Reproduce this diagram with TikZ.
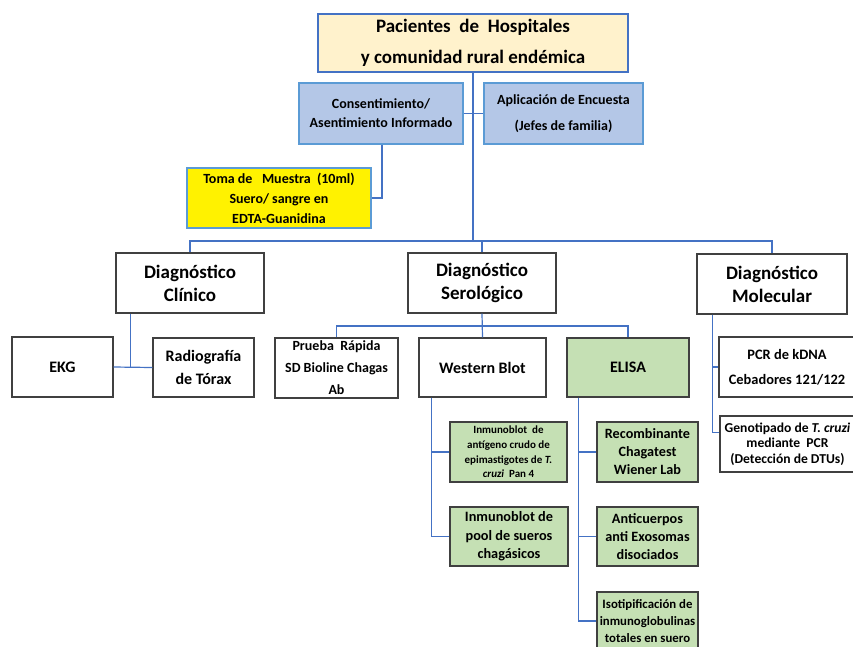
\documentclass[tikz,border=0pt]{standalone}
\usepackage{fontspec}
\setmainfont{Carlito}
\usetikzlibrary{calc}
\definecolor{linkblue}{HTML}{4472C4}
\definecolor{lightblue}{HTML}{5B9BD5}
\definecolor{topfill}{HTML}{FFF2CC}
\definecolor{consfill}{HTML}{B4C7E7}
\definecolor{greenfill}{HTML}{C5E0B4}
\definecolor{boxgray}{HTML}{404040}
\newcommand{\fsz}[2]{\fontsize{#1}{#2}\selectfont\bfseries}
\begin{document}
\begin{tikzpicture}[x=1pt,y=-1pt,
  basebox/.style={inner sep=0pt, align=center, line width=1.2pt},
  wbox/.style={basebox, draw=boxgray, fill=white},
  gbox/.style={basebox, draw=boxgray, fill=greenfill},
  bbox/.style={basebox, draw=lightblue, fill=consfill},
  link/.style={draw=linkblue, line width=1.2pt}]
\useasboundingbox (0,0) rectangle (853,646);
\fill[white] (0,0) rectangle (853,646);
\clip (0,0) rectangle (853,646);

% top level
\node[basebox, draw=linkblue, fill=topfill, minimum width=310, minimum height=58,
  font=\fsz{19}{31}] (top) at (473,43) {Pacientes\ \ de\ \ Hospitales\\y comunidad rural endémica};
\node[bbox, minimum width=164, minimum height=61, font=\fsz{14}{19}] (cons) at (381,113.5)
  {Consentimiento/\\Asentimiento Informado};
\node[bbox, minimum width=159, minimum height=61, font=\fsz{14}{26}] (apl) at (563.5,113.5)
  {Aplicación de Encuesta\\(Jefes de familia)};
\node[basebox, draw=lightblue, fill=yellow, minimum width=184, minimum height=60,
  font=\fsz{14}{20}] (toma) at (279,198) {Toma de\ \ \ Muestra\ \ (10ml)\\Suero/ sangre en\\EDTA-Guanidina};

% diagnosis branches
\node[wbox, minimum width=148, minimum height=60, font=\fsz{19}{23}] (clin) at (190,283) {Diagnóstico\\Clínico};
\node[wbox, minimum width=148, minimum height=60, font=\fsz{19}{23}] (ser) at (482,283) {Diagnóstico\\Serológico};
\node[wbox, minimum width=150, minimum height=60, font=\fsz{19}{23}] (mol) at (772,284) {Diagnóstico\\Molecular};

% clinical
\node[wbox, minimum width=101, minimum height=60, font=\fsz{16}{23}] (ekg) at (62.5,367) {EKG};
\node[wbox, minimum width=101, minimum height=59, font=\fsz{16}{23}] (rad) at (203.5,367.5) {Radiografía\\de Tórax};

% serological
\node[wbox, minimum width=123, minimum height=60, font=\fsz{14}{22}] (pr) at (336.5,368) {Prueba\ \ Rápida\\SD Bioline Chagas\\Ab};
\node[wbox, minimum width=127, minimum height=59, font=\fsz{16}{23}] (wb) at (482.5,367.5) {Western Blot};
\node[gbox, minimum width=122, minimum height=59, font=\fsz{16}{23}] (elisa) at (628,367.5) {ELISA};

\node[gbox, minimum width=117, minimum height=60, font=\fsz{11}{14.7}] (iba) at (508.5,452)
  {Inmunoblot\ \ de\\antígeno crudo de\\epimastigotes de \textit{T.}\\\textit{cruzi}\ \ Pan 4};
\node[gbox, minimum width=118, minimum height=59, font=\fsz{14.3}{18.5}] (ibp) at (509,536.5)
  {Inmunoblot de\\pool de sueros\\chagásicos};
\node[gbox, minimum width=101, minimum height=60, font=\fsz{14.2}{18}] (rec) at (647.5,452)
  {Recombinante\\Chagatest\\Wiener Lab};
\node[gbox, minimum width=101, minimum height=59, font=\fsz{14.2}{18}] (anti) at (647.5,536.5)
  {Anticuerpos\\anti Exosomas\\disociados};
\node[gbox, minimum width=101, minimum height=58, font=\fsz{12.8}{17}] (iso) at (647.5,621)
  {Isotipificación de\\inmunoglobulinas\\totales en suero};

% molecular
\node[wbox, minimum width=136, minimum height=60, font=\fsz{14.4}{25}] (pcr) at (787,367) {PCR de kDNA\\Cebadores 121/122};
\node[wbox, minimum width=135, minimum height=56, font=\fsz{13.6}{15.5}] (gen) at (787.5,444)
  {Genotipado de \textit{T. cruzi}\\mediante\ \ PCR\\(Detección de DTUs)};

% connectors: top level
\draw[link] (top.south) -- (473,241) coordinate (hub);
\draw[link] (cons.east) -- (apl.west);
\draw[link] (cons.south -| 382,0) |- (toma.east);
\draw[link] (clin.north) |- (hub) -| (mol.north);
\draw[link] (ser.north) -- (ser.north |- hub);

% connectors: clinical
\coordinate (cj) at ($(clin.south west)+(15,0)$);
\draw[link] (cj) -- (cj |- ekg.east);
\draw[link] (ekg.east) -- (rad.west);

% connectors: serological
\coordinate (sj) at (482,326);
\draw[link] (ser.south) -- (wb.north);
\draw[link] (pr.north) |- (sj) -| (elisa.north);

\coordinate (wj) at ($(wb.south west)+(13,0)$);
\draw[link] (wj) |- (iba.west);
\draw[link] (wj) |- (ibp.west);

\coordinate (ej) at ($(elisa.south west)+(12,0)$);
\draw[link] (ej) |- (rec.west);
\draw[link] (ej) |- (anti.west);
\draw[link] (ej) |- (iso.west);

% connectors: molecular
\coordinate (mj) at ($(mol.south west)+(16,0)$);
\draw[link] (mj) |- (pcr.west);
\draw[link] (mj) |- ($(gen.north west)+(0,17)$);
\end{tikzpicture}
\end{document}
